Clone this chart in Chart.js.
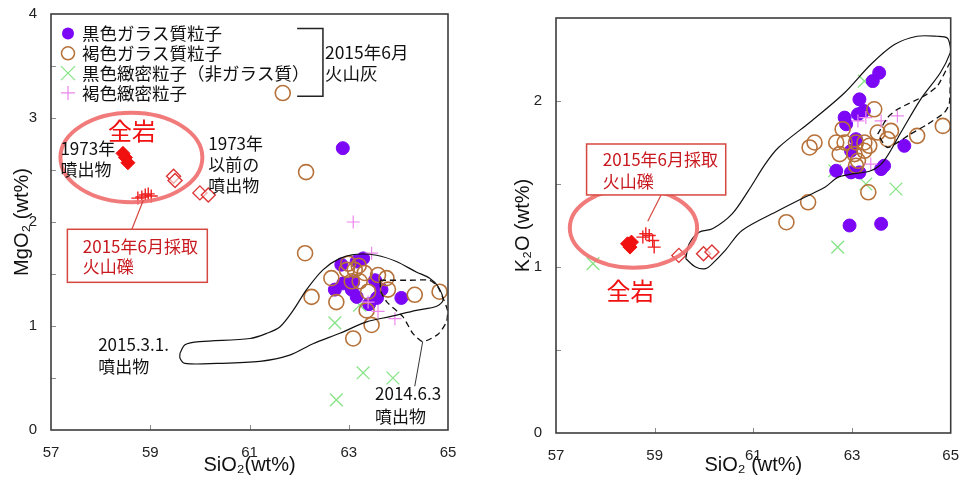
<!DOCTYPE html>
<html lang="ja">
<head>
<meta charset="utf-8">
<title>SiO2 - MgO / K2O</title>
<script src="https://cdn.jsdelivr.net/npm/chart.js@4.4.1/dist/chart.umd.min.js"></script>
<style>
  body { margin: 0; background: #fff; }
  #wrap { position: relative; width: 961px; height: 477px; overflow: hidden; }
  canvas { position: absolute; top: 0; }
  #mgo { left: 0; }
  #k2o { left: 480px; }
</style>
</head>
<body>
<div id="wrap">
  <canvas id="mgo" width="480" height="477"></canvas>
  <canvas id="k2o" width="481" height="477"></canvas>
</div>
<script>
// values: [SiO2 wt%, oxide wt%]
const sio2Ticks = [57, 59, 61, 63, 65];
const mgoTicks = [0, 1, 2, 3, 4];
const k2oTicks = [0, 1, 2];

const legendLabels = ['黒色ガラス質粒子', '褐色ガラス質粒子', '黒色緻密粒子（非ガラス質）', '褐色緻密粒子'];

// --- MgO panel ---
const mgoBlackGlass = [[62.88,2.71],[62.85,1.59],[63.16,1.62],[63.29,1.65],[62.72,1.35],[62.89,1.41],
  [63.06,1.35],[63.09,1.42],[63.16,1.28],[63.53,1.44],[63.66,1.35],[63.57,1.27],[63.41,1.21],[64.06,1.27]];
const mgoBrownGlass = [[61.67,3.24],[62.14,2.48],[62.12,1.70],[62.25,1.28],[62.65,1.46],[62.75,1.23],
  [62.99,1.60],[63.12,1.54],[63.32,1.51],[63.06,1.43],[63.22,1.43],[63.59,1.49],[63.76,1.46],[63.79,1.35],
  [63.39,1.33],[63.46,1.01],[63.09,0.88],[64.33,1.30],[64.83,1.33],[63.36,1.15],[62.96,1.54],[63.20,1.58]];
const mgoBlackDense = [[62.72,1.03],[63.29,0.55],[63.89,0.50],[62.75,0.29],[63.22,1.20]];
const mgoBrownDense = [[63.09,2.00],[63.46,1.70],[63.59,1.14],[63.93,1.07],[63.39,1.23]];
const mgoWholeRock1973 = [[58.45,2.66],[58.50,2.62],[58.55,2.57]];
const mgoPre1973 = [[59.47,2.44],[59.50,2.40],[60.00,2.28],[60.17,2.26]];
const mgoLapilli2015 = [[58.75,2.23],[58.83,2.24],[58.90,2.26],[58.96,2.27],[59.02,2.25]];
const mgoField2015 = [[59.60,0.74],[59.70,0.82],[60.00,0.85],[61.01,0.88],[61.35,0.93],[61.61,0.99],
  [61.88,1.15],[62.15,1.35],[62.48,1.54],[62.82,1.65],[63.16,1.69],[63.56,1.68],[63.96,1.62],[64.36,1.52],
  [64.63,1.46],[64.80,1.38],[64.90,1.25],[64.77,1.19],[64.36,1.15],[63.83,1.09],[63.36,1.04],[62.82,0.93],
  [62.28,0.83],[61.81,0.72],[61.21,0.66],[60.34,0.64],[59.70,0.64],[59.60,0.69],[59.60,0.74]];
const mgoField2014 = [[63.63,1.44],[64.23,1.44],[64.63,1.44],[64.79,1.38],[64.89,1.28],[64.99,1.15],
  [64.97,1.04],[64.80,0.92],[64.49,0.85],[64.29,0.93],[64.09,1.09],[63.77,1.23],[63.65,1.33],[63.63,1.44]];

// --- K2O panel ---
const k2oBlackGlass = [[63.55,2.17],[63.42,2.12],[63.15,2.01],[63.24,1.94],[63.12,1.92],[62.85,1.90],
  [62.88,1.86],[64.06,1.73],[63.08,1.77],[62.98,1.70],[62.68,1.58],[62.98,1.57],[63.15,1.57],[63.59,1.59],
  [63.65,1.61],[62.95,1.25],[63.59,1.26]];
const k2oBrownGlass = [[63.45,1.95],[62.81,1.83],[62.24,1.75],[62.14,1.72],[62.68,1.75],[62.85,1.75],
  [62.75,1.68],[63.08,1.75],[63.25,1.75],[63.35,1.73],[63.25,1.70],[63.12,1.64],[63.08,1.61],[63.52,1.81],
  [63.79,1.82],[63.72,1.77],[64.32,1.79],[64.84,1.85],[63.33,1.45],[62.11,1.39],[61.67,1.27],[63.05,1.68]];
const k2oBlackDense = [[63.25,2.12],[62.65,1.58],[63.28,1.50],[63.89,1.47],[62.71,1.12],[57.75,1.02]];
const k2oBrownDense = [[63.12,1.88],[63.28,1.90],[63.59,1.88],[63.92,1.91],[63.38,1.62]];
const k2oWholeRock1973 = [[58.45,1.14],[58.50,1.12],[58.53,1.15]];
const k2oPre1973 = [[59.49,1.07],[59.99,1.08],[60.16,1.09]];
const k2oLapilli2015 = [[58.76,1.18],[58.82,1.20],[58.89,1.19],[58.96,1.16],[58.99,1.12]];
const k2oField2015 = [[59.63,1.05],[59.70,1.14],[59.90,1.21],[60.17,1.23],[60.57,1.32],[60.90,1.46],
  [61.24,1.62],[61.51,1.72],[62.18,1.88],[62.85,2.05],[63.38,2.22],[63.86,2.34],[64.32,2.39],[64.73,2.39],
  [64.93,2.38],[64.99,2.33],[64.99,2.29],[64.79,2.17],[64.39,2.01],[63.99,1.81],[63.65,1.64],[63.38,1.58],
  [62.98,1.56],[62.71,1.54],[62.45,1.48],[62.04,1.42],[61.51,1.34],[60.77,1.22],[60.43,1.10],[60.17,1.02],
  [60.03,0.99],[59.83,1.00],[59.63,1.05]];
const k2oField2014 = [[63.52,1.80],[63.72,1.90],[63.92,1.95],[64.46,2.03],[64.73,2.09],[64.93,2.20],
  [64.99,2.23],[64.99,2.10],[64.97,1.98],[64.87,1.93],[64.53,1.86],[64.18,1.80],[63.72,1.72],[63.52,1.80]];

const pts = a => a.map(([x, y]) => ({x, y}));
const withMinor = major => major.flatMap((v, i) => i ? [(v + major[i - 1]) / 2, v] : [v]);

const jp = '"Noto Sans CJK JP", sans-serif';
const num = '"Liberation Sans", Arial, "DejaVu Sans", sans-serif';
const purple = '#7c06f6', brown = '#b6723a', green = '#86e486', pink = '#ec86ec', red = '#f01010';
const boxRed = '#d6473f', boxText = '#c8191f';

const styles = {
  blackGlass: {pointStyle: 'circle', pointRadius: 6.5, pointBackgroundColor: purple, pointBorderColor: purple, pointBorderWidth: 1},
  brownGlass: {pointStyle: 'circle', pointRadius: 7.5, pointBackgroundColor: 'rgba(0,0,0,0)', pointBorderColor: brown, pointBorderWidth: 1.6},
  blackDense: {pointStyle: 'crossRot', pointRadius: 9, pointBorderColor: green, pointBorderWidth: 1.3},
  brownDense: {pointStyle: 'cross', pointRadius: 6.5, pointBorderColor: pink, pointBorderWidth: 1.2},
  wholeRock: {pointStyle: 'rectRot', pointRadius: 7, pointBackgroundColor: red, pointBorderColor: red, pointBorderWidth: 1},
  pre1973: {pointStyle: 'rectRot', pointRadius: 7, pointBackgroundColor: 'rgba(255,255,255,0.6)', pointBorderColor: '#dd3535', pointBorderWidth: 1.4},
  lapilli: {pointStyle: 'cross', pointRadius: 6.5, pointBorderColor: '#ee2020', pointBorderWidth: 1.4},
  field2015: {showLine: true, pointRadius: 0, borderColor: '#111', borderWidth: 1.2, tension: 0.3},
  field2014: {showLine: true, pointRadius: 0, borderColor: '#111', borderWidth: 1.3, borderDash: [6, 4], tension: 0.2}
};

const series = (data, style, order) => Object.assign({data: pts(data), order}, style);

// frame, inward ticks, ring, boxes, leader lines, labels and legend
const notesPlugin = {
  id: 'notes',
  afterDatasetsDraw(chart, args, o) {
    const {ctx, chartArea: a} = chart;
    const sx = chart.scales.x, sy = chart.scales.y;
    const X = v => sx.getPixelForValue(v), Y = v => sy.getPixelForValue(v);
    ctx.save();
    ctx.strokeStyle = '#8a8a8a'; ctx.lineWidth = 1;
    sy.ticks.forEach(t => {
      if (t.value <= sy.min || t.value >= sy.max) return;
      const yy = Math.round(Y(t.value)) + 0.5;
      ctx.beginPath(); ctx.moveTo(a.left, yy); ctx.lineTo(a.left + 5, yy); ctx.stroke();
    });
    sx.ticks.forEach(t => {
      if (t.value <= sx.min || t.value >= sx.max) return;
      const xx = Math.round(X(t.value)) + 0.5;
      ctx.beginPath(); ctx.moveTo(xx, a.bottom); ctx.lineTo(xx, a.bottom - 5); ctx.stroke();
    });
    ctx.strokeStyle = '#3c3c3c'; ctx.lineWidth = 1.6;
    ctx.strokeRect(a.left, a.top, a.right - a.left, a.bottom - a.top);

    if (o.ring) {
      const r = o.ring;
      ctx.strokeStyle = 'rgba(240,112,112,0.92)'; ctx.lineWidth = 4;
      ctx.beginPath();
      ctx.ellipse(X(r.x), Y(r.y), X(r.x + r.rx) - X(r.x), Y(r.y) - Y(r.y + r.ry), 0, 0, Math.PI * 2);
      ctx.stroke();
    }
    (o.boxes || []).forEach(b => {
      ctx.fillStyle = '#fff';
      ctx.fillRect(X(b.x1), Y(b.y1), X(b.x2) - X(b.x1), Y(b.y2) - Y(b.y1));
      ctx.strokeStyle = boxRed; ctx.lineWidth = 1.5;
      ctx.strokeRect(X(b.x1), Y(b.y1), X(b.x2) - X(b.x1), Y(b.y2) - Y(b.y1));
    });
    (o.lines || []).forEach(l => {
      ctx.strokeStyle = l.color; ctx.lineWidth = l.width || 1;
      ctx.beginPath();
      l.pts.forEach(([vx, vy], i) => i ? ctx.lineTo(X(vx), Y(vy)) : ctx.moveTo(X(vx), Y(vy)));
      ctx.stroke();
    });
    (o.texts || []).forEach(t => {
      ctx.fillStyle = t.color || '#111';
      ctx.font = t.font;
      ctx.textAlign = t.align || 'left';
      ctx.textBaseline = 'middle';
      t.lines.forEach((s, i) => ctx.fillText(s, X(t.x), Y(t.y) + i * (t.lh || 0)));
    });

    if (o.legend) {
      const sym = a.left + 17, tx = a.left + 31;
      legendLabels.forEach((lab, i) => {
        const y = a.top + 19.5 + i * 19.8;
        ctx.beginPath();
        if (i === 0) {
          ctx.fillStyle = purple; ctx.arc(sym, y, 6, 0, Math.PI * 2); ctx.fill();
        } else if (i === 1) {
          ctx.strokeStyle = brown; ctx.lineWidth = 1.5; ctx.arc(sym, y, 6.5, 0, Math.PI * 2); ctx.stroke();
        } else if (i === 2) {
          ctx.strokeStyle = green; ctx.lineWidth = 1.3;
          ctx.moveTo(sym - 7, y - 7); ctx.lineTo(sym + 7, y + 7); ctx.moveTo(sym + 7, y - 7); ctx.lineTo(sym - 7, y + 7); ctx.stroke();
        } else {
          ctx.strokeStyle = pink; ctx.lineWidth = 1.2;
          ctx.moveTo(sym - 7, y); ctx.lineTo(sym + 7, y); ctx.moveTo(sym, y - 7); ctx.lineTo(sym, y + 7); ctx.stroke();
        }
        ctx.fillStyle = '#111'; ctx.font = '17.5px ' + jp; ctx.textAlign = 'left'; ctx.textBaseline = 'middle';
        ctx.fillText(lab, tx, y);
      });
    }
    ctx.restore();
  }
};

function makePanel(id, opt) {
  return new Chart(document.getElementById(id), {
    type: 'scatter',
    data: {datasets: opt.datasets},
    options: {
      responsive: false,
      animation: false,
      events: [],
      layout: {padding: {top: opt.top, right: opt.right, left: 0, bottom: 0}},
      plugins: {legend: {display: false}, tooltip: {enabled: false}, notes: opt.notes},
      scales: {
        x: {
          type: 'linear', min: 57, max: 65,
          afterBuildTicks: s => { s.ticks = sio2Ticks.map(v => ({value: v})); },
          afterFit: s => { s.height = opt.xHeight; s.paddingLeft = 0; s.paddingRight = 0; },
          grid: {display: false, drawTicks: false},
          border: {display: false},
          ticks: {padding: 14, color: '#222', autoSkip: false, maxRotation: 0, font: {family: num, size: 15}},
          title: {display: true, text: opt.xTitle, color: '#111', font: {family: num, size: 20}, padding: {top: 0, bottom: 0}}
        },
        y: {
          type: 'linear', min: 0, max: opt.yMax,
          afterBuildTicks: s => { s.ticks = withMinor(opt.yTicks).map(v => ({value: v})); },
          afterFit: s => { s.width = opt.yWidth; s.paddingTop = 0; s.paddingBottom = 0; },
          grid: {display: false, drawTicks: false},
          border: {display: false},
          ticks: {padding: 14, color: '#222', autoSkip: false, font: {family: num, size: 15},
            callback: v => opt.yTicks.includes(v) ? String(v) : ''},
          title: {display: true, text: opt.yTitle, color: '#111', font: {family: num, size: 20}, padding: {top: opt.yTitlePad, bottom: 0}}
        }
      }
    },
    plugins: [notesPlugin]
  });
}

makePanel('mgo', {
  top: 14, right: 32, xHeight: 47, yWidth: 51, yMax: 4, yTicks: mgoTicks, yTitlePad: 10,
  xTitle: 'SiO₂(wt%)', yTitle: 'MgO₂ (wt%)',
  datasets: [
    series(mgoField2015, styles.field2015, 0),
    series(mgoField2014, styles.field2014, 0),
    series(mgoBrownDense, styles.brownDense, 1),
    series(mgoBrownGlass, styles.brownGlass, 2),
    series(mgoBlackGlass, styles.blackGlass, 3),
    series(mgoBlackDense, styles.blackDense, 4),
    series(mgoLapilli2015, styles.lapilli, 1),
    series(mgoPre1973, styles.pre1973, 1),
    series(mgoWholeRock1973, styles.wholeRock, 1)
  ],
  notes: {
    legend: true,
    ring: {x: 58.62, y: 2.62, rx: 1.43, ry: 0.43},
    boxes: [{x1: 57.33, x2: 60.15, y1: 1.93, y2: 1.42}],
    lines: [
      {color: boxRed, width: 1.2, pts: [[58.63, 1.93], [58.86, 2.21]]},
      {color: '#333', width: 1, pts: [[64.49, 0.85], [64.33, 0.42]]},
      {color: '#222', width: 1.5, pts: [[61.96, 3.86], [62.48, 3.86], [62.48, 3.21], [61.96, 3.21]]}
    ],
    texts: [
      {lines: ['全岩'], x: 58.63, y: 2.88, color: red, font: '24px ' + jp, align: 'center'},
      {lines: ['1973年', '噴出物'], x: 57.19, y: 2.71, lh: 21.5, font: '17px ' + jp},
      {lines: ['1973年', '以前の', '噴出物'], x: 60.17, y: 2.757, lh: 21.2, font: '17px ' + jp},
      {lines: ['2015年6月採取', '火山礫'], x: 57.64, y: 1.763, lh: 20, color: boxText, font: '17px ' + jp},
      {lines: ['2015年6月', '火山灰'], x: 62.52, y: 3.635, lh: 21, font: '17.5px ' + jp},
      {lines: ['2015.3.1.', '噴出物'], x: 57.95, y: 0.817, lh: 21.7, font: '17px ' + jp},
      {lines: ['2014.6.3', '噴出物'], x: 63.53, y: 0.346, lh: 22.7, font: '17px ' + jp}
    ]
  }
});

makePanel('k2o', {
  top: 18, right: 7, xHeight: 44, yWidth: 76, yMax: 2.5, yTicks: k2oTicks, yTitlePad: 31,
  xTitle: 'SiO₂ (wt%)', yTitle: 'K₂O (wt%)',
  datasets: [
    series(k2oField2015, styles.field2015, 0),
    series(k2oField2014, styles.field2014, 0),
    series(k2oBrownDense, styles.brownDense, 1),
    series(k2oBrownGlass, styles.brownGlass, 2),
    series(k2oBlackGlass, styles.blackGlass, 3),
    series(k2oBlackDense, styles.blackDense, 4),
    series(k2oLapilli2015, styles.lapilli, 1),
    series(k2oPre1973, styles.pre1973, 1),
    series(k2oWholeRock1973, styles.wholeRock, 1)
  ],
  notes: {
    ring: {x: 58.57, y: 1.235, rx: 1.29, ry: 0.24},
    boxes: [{x1: 57.62, x2: 60.44, y1: 1.741, y2: 1.434}],
    lines: [{color: boxRed, width: 1.2, pts: [[59.13, 1.434], [58.86, 1.275]]}],
    texts: [
      {lines: ['全岩'], x: 58.51, y: 0.855, color: red, font: '24px ' + jp, align: 'center'},
      {lines: ['2015年6月採取', '火山礫'], x: 57.95, y: 1.645, lh: 22, color: boxText, font: '17px ' + jp}
    ]
  }
});
</script>
</body>
</html>
